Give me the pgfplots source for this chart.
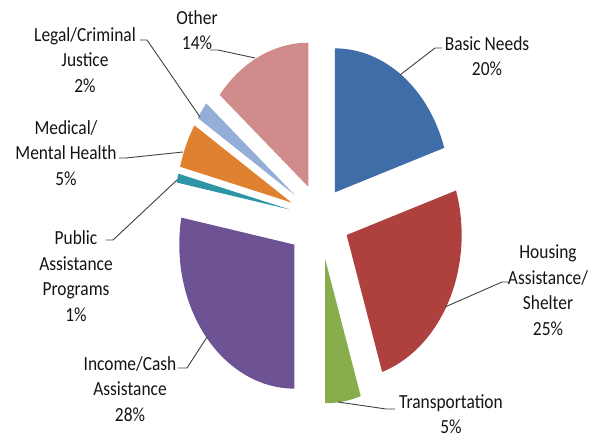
\documentclass[border=0pt]{standalone}
\usepackage{pgfplots}
\pgfplotsset{compat=1.18}
\usepackage{fontspec}
\setmainfont{Carlito}[FakeStretch=0.87]
\definecolor{cBasic}{HTML}{3F6DA8}
\definecolor{cHousing}{HTML}{AE403D}
\definecolor{cTransp}{HTML}{88AD4C}
\definecolor{cIncome}{HTML}{6D5394}
\definecolor{cPublic}{HTML}{2E95A6}
\definecolor{cMedical}{HTML}{E0812F}
\definecolor{cLegal}{HTML}{94AED8}
\definecolor{cOther}{HTML}{D08B8B}
\definecolor{cLine}{HTML}{404040}
% value (percent), explosion (fraction of radius), colour
\newcommand\cx{320}
\newcommand\cy{218}
\newcommand\rx{115}
\newcommand\ry{144}
\xdef\cum{0}
\newcommand\slice[3]{%
  \pgfmathsetmacro\sa{90-3.6*\cum}%
  \pgfmathsetmacro\ea{90-3.6*(\cum+#1)}%
  \pgfmathsetmacro\ma{(\sa+\ea)/2}%
  \pgfmathsetmacro\exx{#2*\rx}%
  \pgfmathsetmacro\exy{#2*\ry}%
  \edef\temp{\noexpand\fill[#3] ([shift={(\ma:\exx pt and \exy pt)}]axis cs:\cx,\cy) -- ++(\sa:\rx pt and \ry pt) arc[start angle=\sa, end angle=\ea, x radius=\rx pt, y radius=\ry pt] -- cycle;}%
  \temp
  \pgfmathsetmacro\newcum{\cum+#1}%
  \xdef\cum{\newcum}%
}
\begin{document}
\begin{tikzpicture}
\begin{axis}[
  width=601pt, height=438pt, scale only axis,
  xmin=0, xmax=601, ymin=0, ymax=438, y dir=reverse,
  hide axis, clip=false,
]
\path (axis cs:0,0) rectangle (axis cs:601,438);
\slice{20}{0.22}{cBasic}
\slice{25}{0.26}{cHousing}
\slice{5}{0.29}{cTransp}
\slice{28}{0.29}{cIncome}
\slice{1}{0.27}{cPublic}
\slice{5}{0.27}{cMedical}
\slice{2}{0.27}{cLegal}
\slice{14}{0.24}{cOther}
% leader lines
\draw[cLine, line width=0.9pt] (axis cs:400,75) -- (axis cs:435,48) -- (axis cs:442,48);
\draw[cLine, line width=0.9pt] (axis cs:445,307) -- (axis cs:502,282) -- (axis cs:508,282);
\draw[cLine, line width=0.9pt] (axis cs:338,402) -- (axis cs:386,409) -- (axis cs:395,409);
\draw[cLine, line width=0.9pt] (axis cs:207,337) -- (axis cs:187,368) -- (axis cs:178,368);
\draw[cLine, line width=0.9pt] (axis cs:255,58) -- (axis cs:218,50) -- (axis cs:210,50);
\draw[cLine, line width=0.9pt] (axis cs:200,117) -- (axis cs:147,40) -- (axis cs:140,40);
\draw[cLine, line width=0.9pt] (axis cs:183,152) -- (axis cs:126,158) -- (axis cs:119,158);
\draw[cLine, line width=0.9pt] (axis cs:177,180) -- (axis cs:113,240) -- (axis cs:106,240);
% labels
\tikzset{lab/.style={align=center, inner sep=0pt, text=black!92, font=\fontsize{20}{25.5}\selectfont}}
\node[lab] at (axis cs:487,56) {Basic Needs\\20\%};
\node[lab] at (axis cs:548,290) {Housing\\Assistance/\\Shelter\\25\%};
\node[lab] at (axis cs:451,414) {Transportation\\5\%};
\node[lab] at (axis cs:130,389) {Income/Cash\\Assistance\\28\%};
\node[lab] at (axis cs:76,276) {Public\\Assistance\\Programs\\1\%};
\node[lab] at (axis cs:66,153) {Medical/\\Mental Health\\5\%};
\node[lab] at (axis cs:85,60) {Legal/Criminal\\Justice\\2\%};
\node[lab] at (axis cs:197,30) {Other\\14\%};
\end{axis}
\end{tikzpicture}
\end{document}
